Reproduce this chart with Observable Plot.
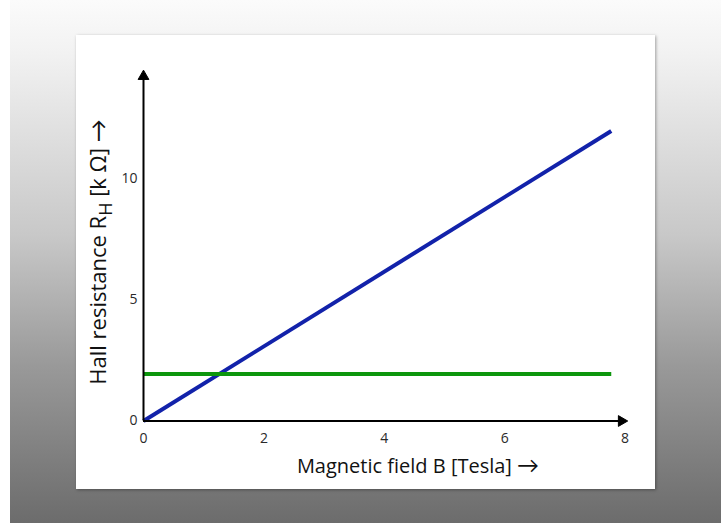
<!DOCTYPE html>
<html>
<head>
<meta charset="utf-8">
<script src="https://cdn.jsdelivr.net/npm/d3@7"></script>
<script src="https://cdn.jsdelivr.net/npm/@observablehq/plot@0.6"></script>
<style>
  html, body { margin: 0; padding: 0; }
  body {
    width: 721px; height: 523px; overflow: hidden; position: relative;
    background: linear-gradient(to bottom, #fbfbfb 0%, #f2f2f2 10%, #c8c8c8 45%, #999 70%, #6c6c6c 100%);
  }
  #strip { position: absolute; left: 0; top: 0; width: 10px; height: 523px; background: #fff; }
  #card {
    position: absolute; left: 76px; top: 35px; width: 579px; height: 454px;
    background: #fff; box-shadow: 1px 1px 3px rgba(0,0,0,0.35);
  }
  #card svg { display: block; }
</style>
</head>
<body>
<div id="strip"></div>
<div id="card"></div>
<script>
// Data
const xTicks = [0, 2, 4, 6, 8];
const yTicks = [0, 5, 10];
const hallB = [0, 7.77];          // Tesla
const hallR = [0, 11.95];         // k Ohm (blue line)
const plateauB = [0, 7.77];
const plateauR = [1.94, 1.94];    // green line
const xAxisMax = 8.0;
const yAxisMax = 14.4;
const xLabel = "Magnetic field B [Tesla] ";
const arrowGlyph = "\u2192";
const yLabelParts = ["Hall resistance R", "H", " [k \u03A9] "];

const blue = hallB.map((b, i) => ({b, r: hallR[i]}));
const green = plateauB.map((b, i) => ({b, r: plateauR[i]}));

const font = "'Open Sans', sans-serif";
const arrowFont = "Lato, sans-serif";

const plot = Plot.plot({
  width: 579,
  height: 454,
  marginLeft: 67,
  marginRight: 30.4,
  marginTop: 36,
  marginBottom: 68.5,
  style: {fontFamily: font, background: "transparent", overflow: "visible"},
  x: {domain: [0, xAxisMax], label: null},
  y: {domain: [0, yAxisMax], label: null},
  marks: [
    Plot.axisX(xTicks, {tickSize: 0, tickPadding: 12, fontSize: 14, fill: "#2a2a2a", label: null}),
    Plot.axisY(yTicks, {tickSize: 0, tickPadding: 6, fontSize: 14, fill: "#2a2a2a", label: null}),
    Plot.line(blue, {x: "b", y: "r", stroke: "#1222aa", strokeWidth: 4, strokeLinecap: "butt"}),
    Plot.line(green, {x: "b", y: "r", stroke: "#0d960d", strokeWidth: 4, strokeLinecap: "butt"}),
    Plot.ruleX([0], {y1: 0, y2: yAxisMax - 0.25, stroke: "#000", strokeWidth: 2}),
    Plot.ruleY([0], {x1: 0, x2: xAxisMax - 0.08, stroke: "#000", strokeWidth: 2}),
    Plot.dot([{b: 0, r: yAxisMax - 0.2}], {x: "b", y: "r", symbol: "triangle", r: 4, fill: "#000", stroke: "#000", strokeWidth: 1}),
    Plot.dot([{b: xAxisMax - 0.06, r: 0}], {x: "b", y: "r", symbol: "triangle", r: 4, rotate: 90, fill: "#000", stroke: "#000", strokeWidth: 1})
  ]
});
document.getElementById("card").appendChild(plot);

const svg = d3.select(plot);
// X axis title
const xt = svg.append("text")
  .attr("x", 342).attr("y", 438)
  .attr("text-anchor", "middle")
  .attr("font-family", font).attr("font-size", 20).attr("fill", "#111");
xt.append("tspan").text(xLabel);
xt.append("tspan").attr("font-family", arrowFont).attr("font-size", 22).text(arrowGlyph);
// Y axis title with subscript
const yt = svg.append("text")
  .attr("transform", "translate(30,217) rotate(-90)")
  .attr("text-anchor", "middle")
  .attr("font-family", font).attr("font-size", 22).attr("fill", "#111");
yt.append("tspan").text(yLabelParts[0]);
yt.append("tspan").attr("dy", 6).attr("font-size", 18).text(yLabelParts[1]);
yt.append("tspan").attr("dy", -6).text(yLabelParts[2]);
yt.append("tspan").attr("font-family", arrowFont).attr("font-size", 23).text(arrowGlyph);
</script>
</body>
</html>
